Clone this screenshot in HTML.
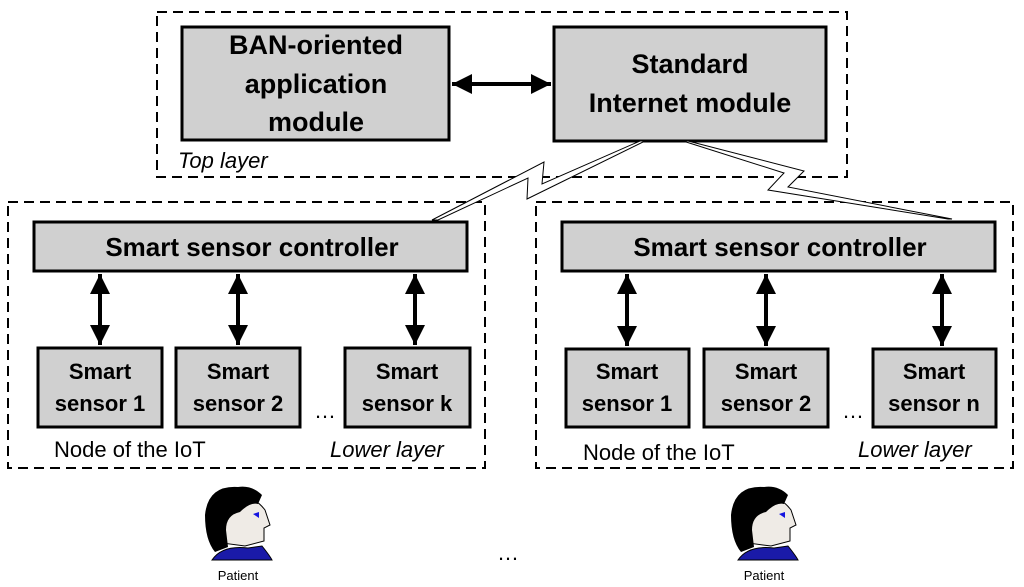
<!DOCTYPE html>
<html><head><meta charset="utf-8"><style>
html,body{margin:0;padding:0;background:#fff;}
svg{display:block;}
text{font-family:"Liberation Sans",Arial,sans-serif;}
</style></head><body>
<svg width="1024" height="587" viewBox="0 0 1024 587" xmlns="http://www.w3.org/2000/svg">
<defs>
<marker id="ah" viewBox="0 0 10 10" refX="10" refY="5" markerWidth="5" markerHeight="5" orient="auto-start-reverse" markerUnits="strokeWidth"><path d="M0,0 L10,5 L0,10 z" fill="#000"/></marker>
</defs>
<g fill="none" stroke="#000" stroke-width="2" stroke-dasharray="10,6">
<rect x="157" y="12" width="690" height="165"/>
<rect x="8" y="202" width="477" height="266"/>
<rect x="536" y="202" width="477" height="266"/>
</g>
<g fill="#d0d0d0" stroke="#000" stroke-width="3">
<rect x="182" y="27" width="267" height="113"/>
<rect x="554" y="27" width="272" height="114"/>
<rect x="34" y="222" width="433" height="49"/>
<rect x="562" y="222" width="433" height="49"/>
<rect x="38" y="348" width="124" height="79"/>
<rect x="176" y="348" width="124" height="79"/>
<rect x="345" y="348" width="125" height="79"/>
<rect x="566" y="349" width="123" height="78"/>
<rect x="704" y="349" width="124" height="78"/>
<rect x="873" y="349" width="123" height="78"/>
</g>
<!-- lightning -->
<g fill="#fff" stroke="#000" stroke-width="1">
<polygon points="640,141 542,184 544,162 432,220 438,220 528,178 527,199 645,141"/>
<polygon points="683,141 784,173 768,190 948,219 952,219 788,187 804,171 688,141"/>
</g>
<!-- arrows -->
<g stroke="#000" stroke-width="4" marker-start="url(#ah)" marker-end="url(#ah)">
<line x1="452" y1="84" x2="551" y2="84"/>
<line x1="100" y1="274" x2="100" y2="345"/>
<line x1="238" y1="274" x2="238" y2="345"/>
<line x1="415" y1="274" x2="415" y2="345"/>
<line x1="627" y1="274" x2="627" y2="346"/>
<line x1="766" y1="274" x2="766" y2="346"/>
<line x1="942" y1="274" x2="942" y2="346"/>
</g>
<g font-weight="bold" text-anchor="middle" fill="#000">
<text x="316" y="54" font-size="27">BAN-oriented</text>
<text x="316" y="93" font-size="27">application</text>
<text x="316" y="131" font-size="27">module</text>
<text x="690" y="73" font-size="27">Standard</text>
<text x="690" y="112" font-size="27">Internet module</text>
<text x="252" y="256" font-size="26">Smart sensor controller</text>
<text x="780" y="256" font-size="26">Smart sensor controller</text>
<g font-size="22">
<text x="100" y="379">Smart</text><text x="100" y="411">sensor 1</text>
<text x="238" y="379">Smart</text><text x="238" y="411">sensor 2</text>
<text x="407" y="379">Smart</text><text x="407" y="411">sensor k</text>
<text x="627" y="379">Smart</text><text x="627" y="411">sensor 1</text>
<text x="766" y="379">Smart</text><text x="766" y="411">sensor 2</text>
<text x="934" y="379">Smart</text><text x="934" y="411">sensor n</text>
</g>
</g>
<g font-size="22" fill="#000">
<text x="178" y="168" font-style="italic">Top layer</text>
<text x="54" y="457">Node of the IoT</text>
<text x="330" y="457" font-style="italic">Lower layer</text>
<text x="583" y="460">Node of the IoT</text>
<text x="858" y="457" font-style="italic">Lower layer</text>
<text x="314" y="418">…</text>
<text x="842" y="418">…</text>
<text x="497" y="560">…</text>
</g>
<!-- patients -->
<g id="p1">
<path d="M212,560 Q222,545 248,548 L262,546 Q270,556 272,560 Z" fill="#1a1aa8" stroke="#000" stroke-width="1"/>
<path d="M224,500 Q250,490 265,510 L270,525 L264,528 L264,541 L245,546 L222,543 Z" fill="#efebe6" stroke="#000" stroke-width="1"/>
<path d="M238,487 Q208,485 205,515 Q205,540 215,552 L228,547 L226,530 Q226,515 240,512 Q250,502 258,504 L262,495 Q252,485 238,487 Z" fill="#000"/>
<path d="M253,514 L259,512 L259,518 Z" fill="#1515e0"/>
<text x="238" y="580" font-size="13" text-anchor="middle">Patient</text>
</g>
<g transform="translate(526,0)">
<path d="M212,560 Q222,545 248,548 L262,546 Q270,556 272,560 Z" fill="#1a1aa8" stroke="#000" stroke-width="1"/>
<path d="M224,500 Q250,490 265,510 L270,525 L264,528 L264,541 L245,546 L222,543 Z" fill="#efebe6" stroke="#000" stroke-width="1"/>
<path d="M238,487 Q208,485 205,515 Q205,540 215,552 L228,547 L226,530 Q226,515 240,512 Q250,502 258,504 L262,495 Q252,485 238,487 Z" fill="#000"/>
<path d="M253,514 L259,512 L259,518 Z" fill="#1515e0"/>
<text x="238" y="580" font-size="13" text-anchor="middle">Patient</text>
</g>
</svg>
</body></html>
